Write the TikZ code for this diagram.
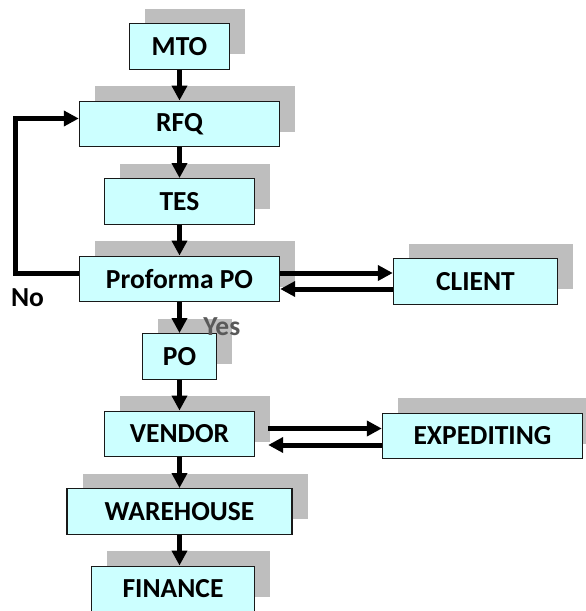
\documentclass[tikz,border=0pt]{standalone}
\usepackage{fontspec}
\setmainfont{Carlito}
\usetikzlibrary{arrows.meta,shadows}
\definecolor{boxfill}{HTML}{CCFFFF}
\definecolor{shade}{HTML}{BEBEBE}
\begin{document}
\begin{tikzpicture}[x=1pt, y=-1pt, node distance={77.5pt}, font=\bfseries\fontsize{27.5}{32}\selectfont,
    box/.style = {draw=black!90, line width=1.4pt, fill=boxfill, minimum height=45.5pt, inner sep=2pt,
        drop shadow={shadow xshift=15.5pt, shadow yshift=15pt, fill=shade, opacity=1}},
    arw/.style = {-{Triangle[length=15pt, width=15pt]}, line width=5pt}]
                \useasboundingbox (0,0) rectangle (586,611);
                \node[box, minimum width=100pt] (mto) at (179.5,46.5) {MTO};
                \node[box, minimum width=200pt] (rfq) [below of=mto] {RFQ};
                \node[box, minimum width=150pt] (tes) [below of=rfq] {TES};
                \node[box, minimum width=200pt] (pf) [below of=tes] {Proforma PO};
                \node[box, minimum width=74pt] (po) [below of=pf] {PO};
                \node[box, minimum width=150pt] (ven) [below of=po] {VENDOR};
                \node[box, minimum width=225pt] (wh) [below of=ven] {WAREHOUSE};
                \node[box, minimum width=163pt] (fin) [below of=wh, xshift=-6.5pt] {FINANCE};
                \node[box, minimum width=164pt] (cl) [right of=pf, node distance=296pt, yshift=-2.5pt] {CLIENT};
                \node[box, minimum width=200pt] (exp) [right of=ven, node distance=303pt, yshift=-2pt] {EXPEDITING};
                \node (no) at (27.5,298) {No};
                \draw[arw] (mto) -- (rfq);
                \draw[arw] (rfq) -- (tes);
                \draw[arw] (tes) -- (pf);
                \draw[arw] (pf) -- node[pos=0.8, right, xshift=18pt, text=black!65] {Yes} (po);
                \draw[arw] (po) -- (ven);
                \draw[arw] (ven) -- (wh);
                \draw[arw] (wh.south) -- (wh.south |- fin.north);
                \draw[arw] ([yshift=5.5pt]pf.west) -- ++(-63.5,0) |- ([yshift=5.5pt]rfq.west);
                \draw[arw] ([yshift=6pt]pf.east) -- ([yshift=6pt]pf.east -| cl.west);
                \draw[arw] ([yshift=-10pt]pf.east -| cl.west) -- ([yshift=-10pt]pf.east);
                \draw[arw, shorten <=13pt] ([yshift=5.5pt]ven.east) -- ([yshift=5.5pt]ven.east -| exp.west);
                \draw[arw, shorten >=13pt] ([yshift=-11pt]ven.east -| exp.west) -- ([yshift=-11pt]ven.east);
            \end{tikzpicture}
\end{document}
